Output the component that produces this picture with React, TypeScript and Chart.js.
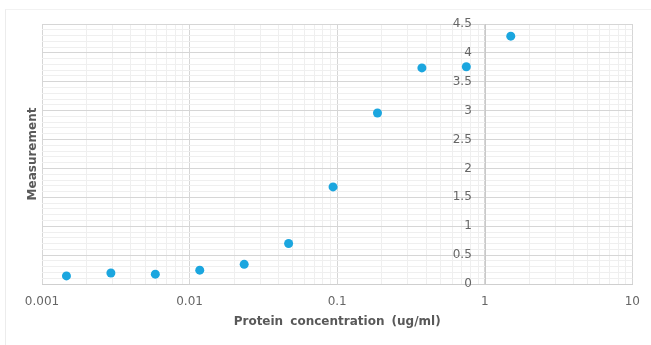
import React, { useEffect, useRef } from "react";
import { Chart, registerables } from "chart.js";

Chart.register(...registerables);

// Two-fold dilution series (ug/ml)
const concentrations = [
  0.00146484375, 0.0029296875, 0.005859375, 0.01171875, 0.0234375,
  0.046875, 0.09375, 0.1875, 0.375, 0.75, 1.5,
];
const measurements = [0.14, 0.19, 0.17, 0.24, 0.34, 0.7, 1.68, 2.96, 3.74, 3.76, 4.29];

const xMajorTicks = [0.001, 0.01, 0.1, 1, 10];
const xTickLabels = ["0.001", "0.01", "0.1", "1", "10"];
const yMajorTicks = [0, 0.5, 1, 1.5, 2, 2.5, 3, 3.5, 4, 4.5];
const yTickLabels = ["0", "0.5", "1", "1.5", "2", "2.5", "3", "3.5", "4", "4.5"];

const xTitle = "Protein concentration (ug/ml)";
const yTitle = "Measurement";

// the y axis crosses the x axis at this value
const yAxisCross = 1;

// grid positions (major + minor)
const xGrid: number[] = [];
for (let i = 0; i < xMajorTicks.length; i++) {
  const base = xMajorTicks[i];
  if (i === xMajorTicks.length - 1) {
    xGrid.push(base);
  } else {
    for (let m = 1; m <= 9; m++) xGrid.push(parseFloat((base * m).toPrecision(6)));
  }
}
const yGrid: number[] = [];
for (let i = 0; i < yMajorTicks.length; i++) {
  const base = yMajorTicks[i];
  if (i === yMajorTicks.length - 1) {
    yGrid.push(base);
  } else {
    for (let m = 0; m < 5; m++) yGrid.push(parseFloat((base + m * 0.1).toFixed(2)));
  }
}

const isXMajor = (v: number) => xMajorTicks.some((t) => Math.abs(t - v) / t < 1e-6);
const isYMajor = (v: number) => yMajorTicks.some((t) => Math.abs(t - v) < 1e-6);

const TICK_FONT = { family: "'DejaVu Sans', sans-serif", size: 12 };
const TITLE_FONT = "bold 12px 'DejaVu Sans', sans-serif";
const LABEL_GAP = 13; // px between y tick labels and y axis line

const titlesPlugin = {
  id: "axisTitles",
  afterDraw(chart: any) {
    const { ctx, chartArea } = chart;
    ctx.save();
    ctx.fillStyle = "#595959";
    ctx.font = TITLE_FONT;
    ctx.textAlign = "center";
    ctx.textBaseline = "middle";
    try {
      (ctx as any).wordSpacing = "3px";
    } catch (e) {}
    ctx.fillText(xTitle, (chartArea.left + chartArea.right) / 2, 322);
    (ctx as any).wordSpacing = "0px";
    ctx.translate(33, (chartArea.top + chartArea.bottom) / 2);
    ctx.rotate(-Math.PI / 2);
    ctx.fillText(yTitle, 0, 0);
    ctx.restore();
  },
};

// draws the y axis line where it crosses the x axis
const crossAxisPlugin = {
  id: "crossAxis",
  beforeDatasetsDraw(chart: any) {
    const { ctx, chartArea, scales } = chart;
    const px = Math.round(scales.x.getPixelForValue(yAxisCross)) + 0.5;
    ctx.save();
    ctx.strokeStyle = "#c9c9c9";
    ctx.lineWidth = 1;
    ctx.beginPath();
    ctx.moveTo(px, chartArea.top);
    ctx.lineTo(px, chartArea.bottom);
    ctx.stroke();
    ctx.restore();
  },
};

export default function App() {
  const ref = useRef<HTMLCanvasElement | null>(null);

  useEffect(() => {
    if (!ref.current) return;
    // value on the log x scale whose pixel lies LABEL_GAP px left of the crossing
    const decadePx = (651 - 42 - 18) / Math.log10(xMajorTicks[4] / xMajorTicks[0]);
    const labelAnchor = yAxisCross * Math.pow(10, -LABEL_GAP / decadePx);
    const chart = new Chart(ref.current, {
      type: "scatter",
      data: {
        datasets: [
          {
            data: concentrations.map((c, i) => ({ x: c, y: measurements[i] })),
            backgroundColor: "#1ba6df",
            borderWidth: 0,
            pointRadius: 4.5,
          },
        ],
      },
      options: {
        animation: false,
        responsive: false,
        layout: { padding: { left: 42, right: 18, top: 24, bottom: 0 } },
        plugins: { legend: { display: false }, tooltip: { enabled: false } },
        scales: {
          x: {
            type: "logarithmic",
            min: 0.001,
            max: 10,
            afterBuildTicks: (s: any) => {
              s.ticks = xGrid.map((v) => ({ value: v }));
            },
            afterFit: (s: any) => {
              s.height = 61;
            },
            ticks: {
              autoSkip: false,
              maxRotation: 0,
              padding: 11,
              color: "#666",
              font: TICK_FONT,
              callback: (v: any) => {
                const idx = xMajorTicks.findIndex((t) => Math.abs(t - v) / t < 1e-6);
                return idx >= 0 ? xTickLabels[idx] : "";
              },
            },
            grid: {
              drawTicks: false,
              color: (c: any) => (isXMajor(c.tick?.value) ? "#d6d6d6" : "#efefef"),
            },
            border: { color: "#cfcfcf" },
          },
          y: {
            type: "linear",
            position: { x: labelAnchor } as any,
            min: 0,
            max: 4.5,
            afterBuildTicks: (s: any) => {
              s.ticks = yGrid.map((v) => ({ value: v }));
            },
            ticks: {
              autoSkip: false,
              padding: 0,
              color: "#666",
              font: TICK_FONT,
              callback: (v: any) => {
                const idx = yMajorTicks.findIndex((t) => Math.abs(t - v) < 1e-6);
                return idx >= 0 ? yTickLabels[idx] : "";
              },
            },
            grid: {
              drawTicks: false,
              color: (c: any) => (isYMajor(c.tick?.value) ? "#d6d6d6" : "#efefef"),
            },
            border: { display: false },
          },
        },
      } as any,
      plugins: [crossAxisPlugin, titlesPlugin],
    });
    return () => chart.destroy();
  }, []);

  return (
    <div
      style={{
        position: "fixed",
        left: 0,
        top: 0,
        width: 651,
        height: 345,
        background: "#fff",
        overflow: "hidden",
      }}
    >
      <div
        style={{
          position: "absolute",
          left: 5,
          top: 9,
          width: 700,
          height: 400,
          borderLeft: "1px solid #ececec",
          borderTop: "1px solid #f2f2f2",
        }}
      />
      <canvas
        ref={ref}
        width={651}
        height={345}
        style={{ position: "absolute", left: 0, top: 0, width: 651, height: 345 }}
      />
    </div>
  );
}
